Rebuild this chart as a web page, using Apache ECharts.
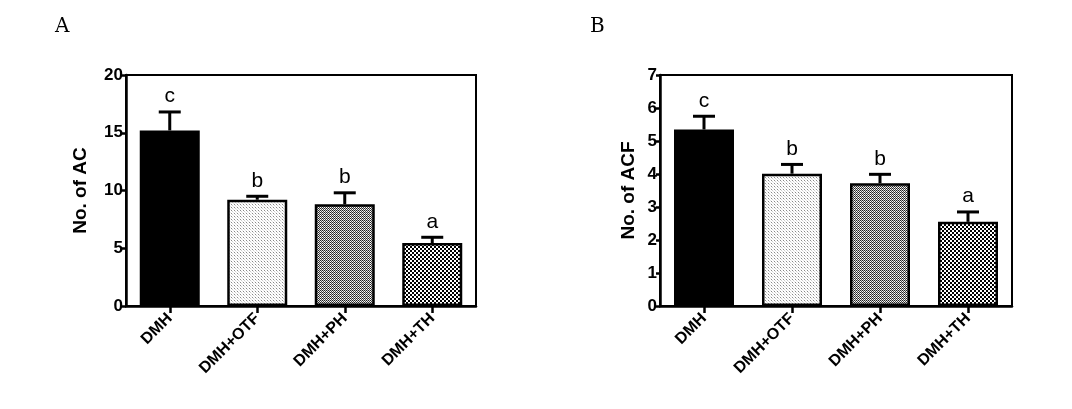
<!DOCTYPE html>
<html>
<head>
<meta charset="utf-8">
<script src="https://cdn.jsdelivr.net/npm/echarts@6/dist/echarts.min.js"></script>
<style>
html,body{margin:0;padding:0;background:#fff;}
#chart{width:1072px;height:409px;}
</style>
</head>
<body>
<div id="chart"></div>
<script>
const categories = ['DMH', 'DMH+OTF', 'DMH+PH', 'DMH+TH'];
const acMean = [15.2, 9.2, 8.8, 5.45];
const acSem = [1.6, 0.3, 1.0, 0.5];
const acLetters = ['c', 'b', 'b', 'a'];
const acfMean = [5.35, 4.01, 3.72, 2.55];
const acfSem = [0.4, 0.28, 0.27, 0.3];
const acfLetters = ['c', 'b', 'b', 'a'];
const acTicks = { min: 0, max: 20, interval: 5 };
const acfTicks = { min: 0, max: 7, interval: 1 };

function makePattern(size, cells) {
  const c = document.createElement('canvas');
  c.width = size; c.height = size;
  const ctx = c.getContext('2d');
  ctx.fillStyle = '#fff';
  ctx.fillRect(0, 0, size, size);
  cells.forEach(function (p) {
    ctx.fillStyle = p[2];
    ctx.fillRect(p[0], p[1], p[3] || 1, p[3] || 1);
  });
  return { image: c, repeat: 'repeat' };
}
const fills = [
  '#000',
  makePattern(3, [[0, 0, '#888'], [1, 1, '#ccc'], [2, 2, '#e4e4e4']]),
  makePattern(2, [[0, 0, '#222'], [1, 1, '#444'], [1, 0, '#ccc']]),
  makePattern(4, [[0, 0, '#000', 2], [2, 2, '#000', 2]])
];

const chart = echarts.init(document.getElementById('chart'), null, { renderer: 'canvas' });
const font = 'Liberation Sans, Arial, sans-serif';

function barData(means) {
  return means.map(function (v, i) {
    return { value: v, itemStyle: { color: fills[i] } };
  });
}
function errData(means, sems, letters) {
  return means.map(function (v, i) { return [i, v, v + sems[i], letters[i]]; });
}
function renderErr(params, api) {
  const base = api.coord([api.value(0), api.value(1)]);
  const top = api.coord([api.value(0), api.value(2)]);
  const half = 11;
  return {
    type: 'group',
    children: [
      { type: 'line', shape: { x1: base[0], y1: base[1], x2: top[0], y2: top[1] }, style: { stroke: '#000', lineWidth: 3 } },
      { type: 'line', shape: { x1: top[0] - half, y1: top[1], x2: top[0] + half, y2: top[1] }, style: { stroke: '#000', lineWidth: 3 } },
      { type: 'text', x: top[0], y: top[1] - 5, style: { text: String(api.value(3)), fill: '#000', font: '21px ' + font, textAlign: 'center', textVerticalAlign: 'bottom' } }
    ]
  };
}

function xAxis(gi) {
  return {
    type: 'category', gridIndex: gi, data: categories,
    axisLine: { lineStyle: { color: '#000', width: 2.5 } },
    axisTick: { show: true, alignWithLabel: true, length: 7, lineStyle: { color: '#000', width: 2.5 } },
    axisLabel: { rotate: 45, margin: 10, color: '#000', fontWeight: 'bold', fontSize: 16, fontFamily: font }
  };
}
function yAxis(gi, t, name, gap) {
  return {
    type: 'value', gridIndex: gi, min: t.min, max: t.max, interval: t.interval,
    name: name, nameLocation: 'middle', nameGap: gap, nameRotate: 90,
    nameTextStyle: { color: '#000', fontWeight: 'bold', fontSize: 19, fontFamily: font },
    splitLine: { show: false },
    axisLine: { show: true, lineStyle: { color: '#000', width: 2.5 } },
    axisTick: { show: true, length: 4, lineStyle: { color: '#000', width: 2.5 } },
    axisLabel: { margin: 3, color: '#000', fontWeight: 'bold', fontSize: 17, fontFamily: font }
  };
}

chart.setOption({
  animation: false,
  backgroundColor: '#fff',
  title: [
    { text: 'A', left: 50, top: 12, textStyle: { fontFamily: 'DejaVu Serif, Liberation Serif, serif', fontWeight: 'normal', fontSize: 20, color: '#000' } },
    { text: 'B', left: 585, top: 12, textStyle: { fontFamily: 'DejaVu Serif, Liberation Serif, serif', fontWeight: 'normal', fontSize: 20, color: '#000' } }
  ],
  grid: [
    { left: 126, right: 596, top: 75, bottom: 103, show: true, borderColor: '#000', borderWidth: 2, backgroundColor: 'transparent' },
    { left: 660, right: 60, top: 75, bottom: 103, show: true, borderColor: '#000', borderWidth: 2, backgroundColor: 'transparent' }
  ],
  xAxis: [xAxis(0), xAxis(1)],
  yAxis: [yAxis(0, acTicks, 'No. of AC', 36), yAxis(1, acfTicks, 'No. of ACF', 22)],
  series: [
    { type: 'bar', xAxisIndex: 0, yAxisIndex: 0, data: barData(acMean), barWidth: 60, itemStyle: { borderColor: '#000', borderWidth: 2.5 } },
    { type: 'bar', xAxisIndex: 1, yAxisIndex: 1, data: barData(acfMean), barWidth: 60, itemStyle: { borderColor: '#000', borderWidth: 2.5 } },
    { type: 'custom', xAxisIndex: 0, yAxisIndex: 0, data: errData(acMean, acSem, acLetters), renderItem: renderErr, z: 3 },
    { type: 'custom', xAxisIndex: 1, yAxisIndex: 1, data: errData(acfMean, acfSem, acfLetters), renderItem: renderErr, z: 3 }
  ]
});
</script>
</body>
</html>
